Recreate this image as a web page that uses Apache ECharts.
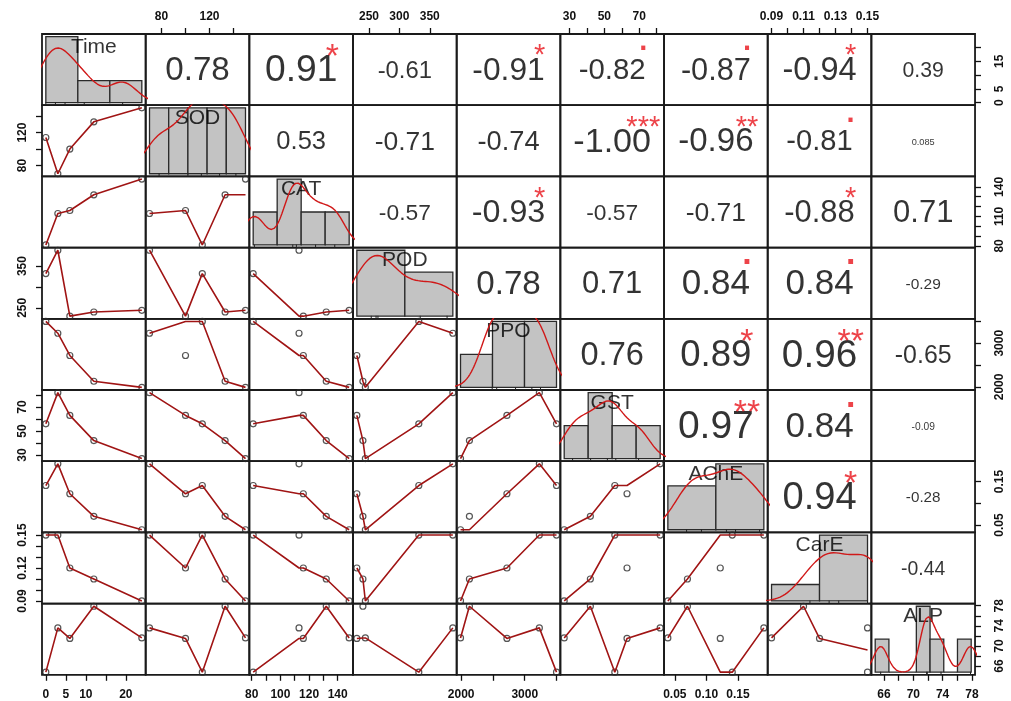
<!DOCTYPE html>
<html>
<head>
<meta charset="utf-8">
<script src="https://cdn.jsdelivr.net/npm/echarts@6/dist/echarts.min.js"></script>
<style>
html, body { margin: 0; padding: 0; background: #fff; }
#main { width: 1011px; height: 701px; }
</style>
</head>
<body>
<div id="main"></div>
<script>
// variables (5 sampling times)
const varNames = ['Time', 'SOD', 'CAT', 'POD', 'PPO', 'GST', 'AChE', 'CarE', 'ALP'];
const time = [0, 3, 6, 12, 24];
const sod  = [114, 70, 100, 133, 150];
const cat  = [81, 113, 116, 132, 148];
const pod  = [332, 388, 230, 240, 244];
const ppo  = [3500, 3230, 2720, 2130, 1990];
const gst  = [56, 82, 63, 42, 27];
const ache = [0.141, 0.191, 0.122, 0.070, 0.039];
const care = [0.150, 0.150, 0.120, 0.110, 0.090];
const alp  = [64.8, 73.6, 71.5, 77.9, 71.6];
const columns = [time, sod, cat, pod, ppo, gst, ache, care, alp];

// histogram breaks per variable
const histBreaks = [
  [0, 10, 20, 30],
  [60, 80, 100, 120, 140, 160],
  [80, 100, 120, 140, 160],
  [200, 300, 400],
  [1000, 2000, 3000, 4000],
  [20, 40, 60, 80, 100],
  [0, 0.1, 0.2],
  [0.05, 0.10, 0.15],
  [64, 66, 68, 70, 72, 74, 76, 78]
];

// points left out of the smoother (zero robustness weight): [row var, col var, observation]
const smoothOutliers = [
  [2, 1, 4], [3, 2, 1], [4, 1, 2], [4, 2, 1], [5, 2, 1], [6, 2, 1], [6, 4, 3],
  [6, 5, 2], [7, 2, 1], [7, 5, 2], [7, 6, 2], [8, 2, 1], [8, 3, 3], [8, 6, 2]
];

// axis ticks and the labels printed on the outer axes
const tickVals = [
  [0, 5, 10, 15, 20],
  [80, 100, 120, 140],
  [80, 90, 100, 110, 120, 130, 140],
  [250, 300, 350],
  [2000, 2500, 3000, 3500],
  [30, 40, 50, 60, 70, 80],
  [0.05, 0.10, 0.15],
  [0.09, 0.10, 0.11, 0.12, 0.13, 0.14, 0.15],
  [66, 68, 70, 72, 74, 76, 78]
];
const xLabels = [
  ['0', '5', '10', '20'], ['80', '120'], ['80', '100', '120', '140'], ['250', '300', '350'],
  ['2000', '3000'], ['30', '50', '70'], ['0.05', '0.10', '0.15'], ['0.09', '0.11', '0.13', '0.15'],
  ['66', '70', '74', '78']
];
const yLabels = [
  ['0', '5', '15'], ['80', '120'], ['80', '110', '140'], ['250', '350'],
  ['2000', '3000'], ['30', '50', '70'], ['0.05', '0.15'], ['0.09', '0.12', '0.15'],
  ['66', '70', '74', '78']
];

// correlation text (upper triangle, row by row) and significance marks
const corLabels = [
  ['0.78', '0.91', '-0.61', '-0.91', '-0.82', '-0.87', '-0.94', '0.39'],
  ['0.53', '-0.71', '-0.74', '-1.00', '-0.96', '-0.81', '0.085'],
  ['-0.57', '-0.93', '-0.57', '-0.71', '-0.88', '0.71'],
  ['0.78', '0.71', '0.84', '0.84', '-0.29'],
  ['0.76', '0.89', '0.96', '-0.65'],
  ['0.97', '0.84', '-0.09'],
  ['0.94', '-0.28'],
  ['-0.44']
];
const corStars = [
  ['', '*', '', '*', '.', '.', '*', ''],
  ['', '', '', '***', '**', '.', ''],
  ['', '*', '', '', '*', ''],
  ['', '', '.', '.', ''],
  ['', '*', '**', ''],
  ['**', '.', ''],
  ['*', ''],
  ['']
];

const N = 9;
const L = 42, T = 34, W = 103.67, H = 71.2;
const numFont = '"Liberation Sans", Arial, sans-serif';
const axFont = '"Liberation Sans Narrow", "Liberation Sans", Arial, sans-serif';

function padRange(lo, hi) {
  const d = hi - lo;
  return [lo - 0.04 * d, hi + 0.04 * d];
}

function quantile7(s, p) {
  const h = (s.length - 1) * p, lo = Math.floor(h), hi = Math.ceil(h);
  return s[lo] + (h - lo) * (s[hi] - s[lo]);
}

function bwNrd0(v) {
  const n = v.length, m = v.reduce((a, b) => a + b, 0) / n;
  const sd = Math.sqrt(v.reduce((a, b) => a + (b - m) * (b - m), 0) / (n - 1));
  const s = v.slice().sort((a, b) => a - b);
  let lo = Math.min(sd, (quantile7(s, 0.75) - quantile7(s, 0.25)) / 1.34);
  if (!lo) lo = sd || Math.abs(v[0]) || 1;
  return 0.9 * lo * Math.pow(n, -0.2);
}

// gaussian kernel density, like R density()
function kde(v) {
  const bw = bwNrd0(v);
  const lo = Math.min(...v) - 3 * bw, hi = Math.max(...v) + 3 * bw;
  const out = [];
  for (let k = 0; k < 512; k++) {
    const x = lo + (hi - lo) * k / 511;
    let d = 0;
    v.forEach(xi => { const z = (x - xi) / bw; d += Math.exp(-0.5 * z * z); });
    out.push([x, d / (v.length * bw * Math.sqrt(2 * Math.PI))]);
  }
  return out;
}

function histBins(v, br) {
  const bins = [];
  for (let b = 0; b < br.length - 1; b++) {
    const a = br[b], c = br[b + 1];
    const cnt = v.filter(x => (x > a || (b === 0 && x >= a)) && x <= c + 1e-12).length;
    bins.push([a, c, cnt / (v.length * (c - a))]);
  }
  return bins;
}

// local weighted fit, as in R's clowess
function lowest(x, y, n, xs, nleft, nright, w, rw) {
  const range = x[n] - x[1];
  const h = Math.max(xs - x[nleft], x[nright] - xs);
  const h9 = 0.999 * h, h1 = 0.001 * h;
  let a = 0, j = nleft;
  while (j <= n) {
    w[j] = 0;
    const r = Math.abs(x[j] - xs);
    if (r <= h9) {
      if (r <= h1) w[j] = 1;
      else { const q = r / h; const u = 1 - q * q * q; w[j] = u * u * u; }
      w[j] *= rw[j];
      a += w[j];
    } else if (x[j] > xs) break;
    j++;
  }
  const nrt = j - 1;
  if (a <= 0) return null;
  for (j = nleft; j <= nrt; j++) w[j] /= a;
  if (h > 0) {
    a = 0;
    for (j = nleft; j <= nrt; j++) a += w[j] * x[j];
    let b = xs - a, c = 0;
    for (j = nleft; j <= nrt; j++) c += w[j] * (x[j] - a) * (x[j] - a);
    if (Math.sqrt(c) > 0.001 * range) {
      b /= c;
      for (j = nleft; j <= nrt; j++) w[j] *= (b * (x[j] - a) + 1);
    }
  }
  let ys = 0;
  for (j = nleft; j <= nrt; j++) ys += w[j] * y[j];
  return ys;
}

// lowess smoother (f = 2/3) with given robustness weights
function lowess(xin, yin, wts, f = 2 / 3) {
  const n = xin.length;
  const ord = xin.map((v, k) => k).sort((p, q) => xin[p] - xin[q] || p - q);
  const x = [0].concat(ord.map(k => xin[k]));
  const y = [0].concat(ord.map(k => yin[k]));
  const rw = [0].concat(ord.map(k => wts[k]));
  const delta = 0.01 * (x[n] - x[1]);
  const ys = new Array(n + 1).fill(0), work = new Array(n + 1).fill(0);
  const ns = Math.max(2, Math.min(n, Math.floor(f * n + 1e-7)));
  let nleft = 1, nright = ns, last = 0, i = 1;
  for (;;) {
    if (nright < n) {
      const d1 = x[i] - x[nleft], d2 = x[nright + 1] - x[i];
      if (d1 > d2) { nleft++; nright++; continue; }
    }
    const fit = lowest(x, y, n, x[i], nleft, nright, work, rw);
    ys[i] = fit === null ? y[i] : fit;
    if (last < i - 1) {
      const denom = x[i] - x[last];
      for (let j = last + 1; j < i; j++) {
        const al = (x[j] - x[last]) / denom;
        ys[j] = al * ys[i] + (1 - al) * ys[last];
      }
    }
    last = i;
    const cut = x[last] + delta;
    for (i = last + 1; i <= n; i++) {
      if (x[i] > cut) break;
      if (x[i] === x[last]) { ys[i] = ys[last]; last = i; }
    }
    i = Math.max(last + 1, i - 1);
    if (last >= n) break;
  }
  const out = [];
  for (let k = 1; k <= n; k++) out.push([x[k], ys[k]]);
  return out;
}

const ctx = document.createElement('canvas').getContext('2d');
ctx.font = '100px ' + numFont;
function emWidth(s) { return ctx.measureText(s).width / 100; }

const ranges = columns.map(v => padRange(Math.min(...v), Math.max(...v)));
const grids = [], xAxes = [], yAxes = [], series = [];

function plainAxis(k, r) {
  return { type: 'value', gridIndex: k, min: r[0], max: r[1], show: false,
    axisLine: { show: false, onZero: false }, splitLine: { show: false },
    axisTick: { show: false }, axisLabel: { show: false } };
}

function edgeAxis(k, v, pos) {
  const vertical = pos === 'left' || pos === 'right';
  const labels = vertical ? yLabels[v] : xLabels[v];
  const lookup = {};
  labels.forEach(s => { lookup[parseFloat(s)] = s; });
  const margins = { top: 11, bottom: 14, left: 13, right: 19 };
  return {
    type: 'value', gridIndex: k, min: ranges[v][0], max: ranges[v][1], show: true, position: pos,
    axisLine: { show: false, onZero: false }, splitLine: { show: false },
    axisTick: { show: true, length: 6, customValues: tickVals[v], lineStyle: { color: '#111', width: 1.3 } },
    axisLabel: {
      show: true, customValues: labels.map(parseFloat), formatter: val => lookup[val] || '',
      rotate: vertical ? 90 : 0, margin: margins[pos], hideOverlap: false,
      fontFamily: axFont, fontWeight: 'bold', fontSize: 12, color: '#111'
    }
  };
}

for (let i = 0; i < N; i++) {
  for (let j = 0; j < N; j++) {
    const k = i * N + j;
    grids.push({ left: L + j * W, top: T + i * H, width: W, height: H, show: true,
      borderColor: '#1a1a1a', borderWidth: 1.8, outerBoundsMode: 'none', containLabel: false });

    if (i === j) {
      const v = columns[i];
      const br = histBreaks[i];
      const bins = histBins(v, br);
      const maxD = Math.max(...bins.map(b => b[2]));
      const xr = padRange(br[0], br[br.length - 1]);
      const yr = [-0.04 * maxD, 1.04 * maxD];
      xAxes.push(plainAxis(k, xr));
      yAxes.push(plainAxis(k, yr));
      series.push({
        type: 'custom', xAxisIndex: k, yAxisIndex: k, data: bins, silent: true,
        renderItem: (params, api) => {
          const p0 = api.coord([api.value(0), 0]);
          const p1 = api.coord([api.value(1), api.value(2)]);
          return { type: 'rect', shape: { x: p0[0], y: p1[1], width: p1[0] - p0[0], height: p0[1] - p1[1] },
            style: { fill: '#c3c3c3', stroke: '#2a2a2a', lineWidth: 1.3 } };
        }
      });
      series.push({
        type: 'custom', xAxisIndex: k, yAxisIndex: k, data: v.map(x => [x, yr[0]]), silent: true,
        renderItem: (params, api) => {
          const p = api.coord([api.value(0), api.value(1)]);
          return { type: 'line', shape: { x1: p[0], y1: p[1], x2: p[0], y2: p[1] - 3 },
            style: { stroke: '#222', lineWidth: 1 } };
        }
      });
      series.push({
        type: 'line', xAxisIndex: k, yAxisIndex: k, data: kde(v), showSymbol: false, clip: true,
        silent: true, lineStyle: { color: '#d01818', width: 1.4 }
      });
      series.push({
        type: 'scatter', xAxisIndex: k, yAxisIndex: k, symbolSize: 1, silent: true,
        itemStyle: { color: 'rgba(0,0,0,0)' },
        data: [[xr[0] + 0.5 * (xr[1] - xr[0]), yr[0] + 0.82 * (yr[1] - yr[0])]],
        label: { show: true, position: 'inside', formatter: varNames[i], fontFamily: numFont,
          fontSize: 21, color: '#000' }
      });
    } else {
      const xa = (i === 0 && j % 2 === 1) ? edgeAxis(k, j, 'top')
        : (i === N - 1 && j % 2 === 0) ? edgeAxis(k, j, 'bottom') : plainAxis(k, ranges[j]);
      const ya = (j === 0 && i % 2 === 1) ? edgeAxis(k, i, 'left')
        : (j === N - 1 && i % 2 === 0) ? edgeAxis(k, i, 'right') : plainAxis(k, ranges[i]);
      xAxes.push(xa);
      yAxes.push(ya);
      const xr = ranges[j], yr = ranges[i];
      if (i > j) {
        const pts = columns[j].map((x, n) => [x, columns[i][n]]);
        const wts = columns[j].map((x, n) =>
          smoothOutliers.some(o => o[0] === i && o[1] === j && o[2] === n) ? 0 : 1);
        series.push({
          type: 'scatter', xAxisIndex: k, yAxisIndex: k, data: pts, symbol: 'circle', symbolSize: 6,
          silent: true, clip: true,
          itemStyle: { color: 'rgba(255,255,255,0)', borderColor: '#2b2b2b', borderWidth: 1.2 }
        });
        series.push({
          type: 'line', xAxisIndex: k, yAxisIndex: k, data: lowess(columns[j], columns[i], wts),
          showSymbol: false, clip: true, silent: true, lineStyle: { color: '#a01414', width: 1.6 }
        });
      } else {
        const txt = corLabels[i][j - i - 1];
        const star = corStars[i][j - i - 1];
        const r = Math.abs(parseFloat(txt));
        const full = 0.75 * W / emWidth(txt);
        const fs = full * (r + 0.3) / 1.3;
        series.push({
          type: 'scatter', xAxisIndex: k, yAxisIndex: k, symbolSize: 1, silent: true,
          itemStyle: { color: 'rgba(0,0,0,0)' },
          data: [[xr[0] + 0.5 * (xr[1] - xr[0]), yr[0] + 0.5 * (yr[1] - yr[0])]],
          label: { show: true, position: 'inside', formatter: txt, fontFamily: numFont,
            fontSize: fs, color: '#000', offset: [0, 1.5] }
        });
        if (star) {
          const sf = full * 0.85;
          const dy = star === '.' ? -0.25 * sf : 0.233 * sf;
          series.push({
            type: 'scatter', xAxisIndex: k, yAxisIndex: k, symbolSize: 1, silent: true,
            itemStyle: { color: 'rgba(0,0,0,0)' },
            data: [[xr[0] + 0.8 * (xr[1] - xr[0]), yr[0] + 0.78 * (yr[1] - yr[0])]],
            label: { show: true, position: 'inside', formatter: star, fontFamily: numFont,
              fontWeight: star === '.' ? 'bold' : 'normal',
              fontSize: sf, color: '#e8141b', offset: [0, dy] }
          });
        }
      }
    }
  }
}

// outer axes of the last diagonal panel (ALP), on the variable's own scale
const kx = N * N;
grids.push({ left: L + 8 * W, top: T + 8 * H, width: W, height: H, show: false,
  outerBoundsMode: 'none', containLabel: false });
xAxes.push(edgeAxis(kx, 8, 'bottom'));
yAxes.push(edgeAxis(kx, 8, 'right'));
series.push({ type: 'scatter', xAxisIndex: kx, yAxisIndex: kx, data: [], silent: true });

const chart = echarts.init(document.getElementById('main'), null, { renderer: 'canvas' });
chart.setOption({
  animation: false,
  backgroundColor: '#fff',
  grid: grids,
  xAxis: xAxes,
  yAxis: yAxes,
  series: series
});
</script>
</body>
</html>
